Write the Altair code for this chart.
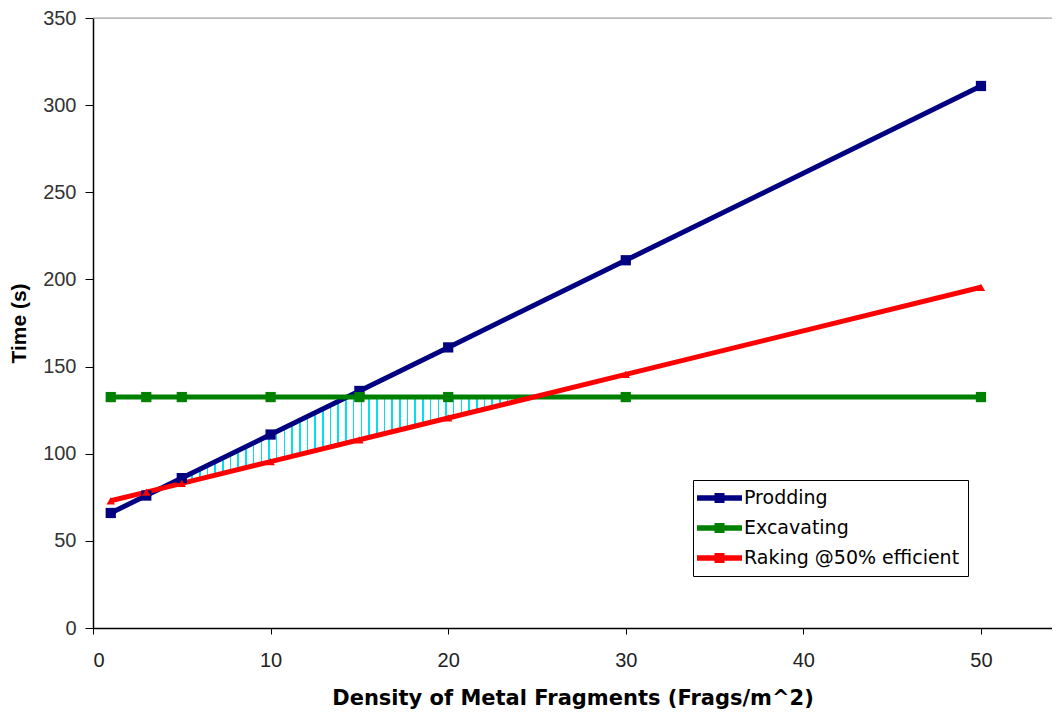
import altair as alt
import pandas as pd

density = [1, 3, 5, 10, 15, 20, 30, 50]
prodding = [66, 76, 86, 111, 136, 161, 211, 311]
excavating = [132.5, 132.5, 132.5, 132.5, 132.5, 132.5, 132.5, 132.5]
raking = [73, 78, 83, 95.5, 108, 120.5, 145.5, 195.5]

series_names = ["Prodding", "Excavating", "Raking @50% efficient"]
series_colors = ["#000080", "#008000", "#ff0000"]

# shaded (hatched) band between Raking and min(Prodding, Excavating)
hatch_x = [3.8, 5, 10, 14.2, 15, 20, 24.6]
hatch_low = [80, 83, 95.5, 106, 108, 120.5, 132.5]
hatch_high = [80, 86, 111, 132.5, 132.5, 132.5, 132.5]

rows = []
for name, vals in zip(series_names, [prodding, excavating, raking]):
    for x, y in zip(density, vals):
        rows.append({"density": x, "time": y, "series": name})
df = pd.DataFrame(rows)
hatch_df = pd.DataFrame({"x": hatch_x, "low": hatch_low, "high": hatch_high})

W, H = 959, 610
XMAX = 54.0

xscale = alt.Scale(domain=[0, XMAX], nice=False, zero=False)
yscale = alt.Scale(domain=[0, 350], nice=False)
cscale = alt.Scale(domain=series_names, range=series_colors)

FONT = "Liberation Sans"
WIDE = "DejaVu Sans"

xaxis = alt.Axis(values=[0, 10, 20, 30, 40, 50], title="Density of Metal Fragments (Frags/m^2)",
                 grid=False, domainColor="#000", domainWidth=1.5, tickColor="#000", tickSize=6,
                 labelFont=FONT, labelFontSize=20, labelColor="#222", labelPadding=16,
                 titleFont=WIDE, titleFontSize=21, titleFontWeight="bold", titlePadding=17,
                 titleColor="#000")
yaxis = alt.Axis(values=[0, 50, 100, 150, 200, 250, 300, 350], title="Time (s)",
                 grid=False, domainColor="#000", domainWidth=1.5, tickColor="#000", tickSize=8,
                 labelFont=FONT, labelFontSize=20, labelColor="#333", labelPadding=9,
                 titleFont=FONT, titleFontSize=21, titleFontWeight="bold", titlePadding=13,
                 titleColor="#000")

n_lines = 48
stops = []
for i in range(n_lines):
    a = i / n_lines
    b = (i + 0.2) / n_lines
    stops += [alt.GradientStop(offset=a, color="#ffffff"),
              alt.GradientStop(offset=a, color="#00e0f0"),
              alt.GradientStop(offset=b, color="#00e0f0"),
              alt.GradientStop(offset=b, color="#ffffff")]
hatch_fill = alt.Gradient(gradient="linear", stops=stops, x1=0, x2=1, y1=0, y2=0)

hatch = alt.Chart(hatch_df).mark_area(fill=hatch_fill).encode(
    x=alt.X("x:Q", scale=xscale, axis=xaxis),
    y=alt.Y("low:Q", scale=yscale, axis=yaxis),
    y2="high:Q",
)

top_border = alt.Chart(pd.DataFrame({"a": [0], "b": [XMAX], "y": [350]})).mark_rule(
    color="#999", strokeWidth=1).encode(
    x=alt.X("a:Q", scale=xscale), x2="b:Q", y=alt.Y("y:Q", scale=yscale))

legend = alt.Legend(orient="none", legendX=600, legendY=462, title=None,
                    strokeColor="#000", fillColor="#fff", padding=8,
                    labelFont=WIDE, labelFontSize=19, labelColor="#000", labelLimit=0,
                    symbolType="M-1.4,-0.27H3.1V0.27H-1.4Z M0.35,-0.5H1.35V0.5H0.35Z",
                    symbolSize=400, symbolStrokeWidth=0, symbolOpacity=1,
                    labelOffset=23, rowPadding=10, offset=0)

color = alt.Color("series:N", scale=cscale, sort=series_names, legend=legend)

lines = alt.Chart(df).mark_line(strokeWidth=5).encode(
    x=alt.X("density:Q", scale=xscale),
    y=alt.Y("time:Q", scale=yscale),
    color=color,
    order=alt.Order("density:Q"),
)

sq_df = df[df["series"] != "Raking @50% efficient"]
tri_df = df[df["series"] == "Raking @50% efficient"]

squares = alt.Chart(sq_df).mark_point(shape="square", filled=True, size=105, opacity=1).encode(
    x=alt.X("density:Q", scale=xscale),
    y=alt.Y("time:Q", scale=yscale),
    color=color,
)
tris = alt.Chart(tri_df).mark_point(shape="triangle-up", filled=True, size=70, opacity=1).encode(
    x=alt.X("density:Q", scale=xscale),
    y=alt.Y("time:Q", scale=yscale),
    color=color,
)

chart = alt.layer(hatch, top_border, lines, squares, tris).properties(
    width=W, height=H,
    autosize=alt.AutoSizeParams(type="none"),
    padding={"left": 85, "top": 10, "right": 0, "bottom": 82},
).configure_view(stroke=None).configure(background="#fff")

chart.save("out.html", embed_options={"renderer": "svg", "actions": False})
